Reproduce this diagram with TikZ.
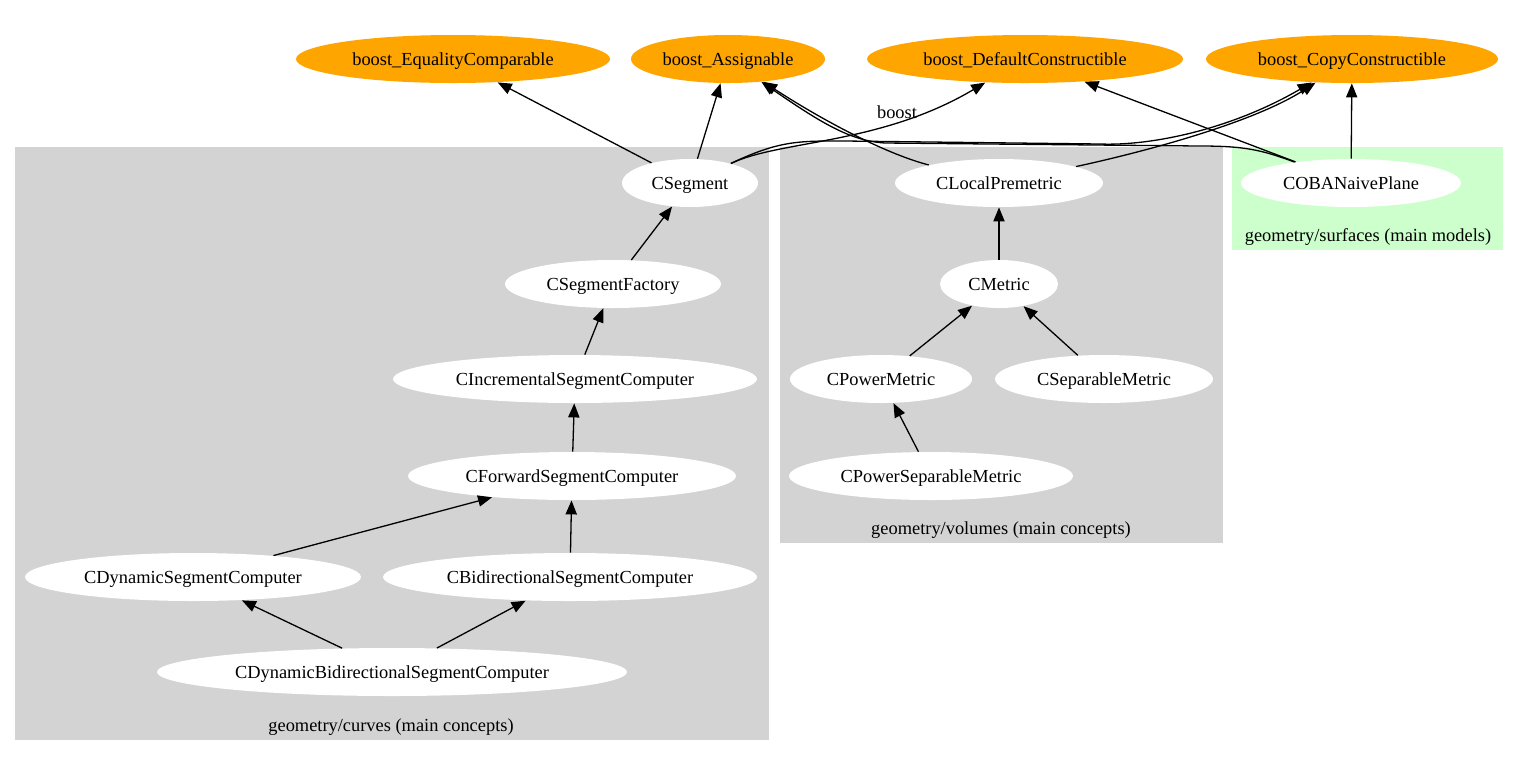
\documentclass[tikz,border=0pt]{standalone}
\usepackage{fontspec}
\setmainfont{Liberation Serif}
\usetikzlibrary{arrows.meta,shapes.geometric}
\definecolor{clgray}{HTML}{D3D3D3}
\definecolor{clgreen}{HTML}{CCFFCC}
\definecolor{bstorange}{HTML}{FFA500}
\begin{document}
\begin{tikzpicture}[x=0.5pt,y=-0.5pt,
  font=\fontsize{9.2pt}{11pt}\selectfont,
  cls/.style={ellipse, fill=white, inner sep=0pt, minimum height=24pt, text height=8pt, text depth=2pt},
  bst/.style={ellipse, fill=bstorange, inner sep=0pt, minimum height=24pt, text height=8pt, text depth=2pt},
  edge/.style={-{Triangle[length=7pt,width=5.6pt]}, line width=0.65pt, black},
  clabel/.style={inner sep=0pt, text height=8pt, text depth=2pt}]
\useasboundingbox (0,0) rectangle (1537,757);
\fill[white] (0,0) rectangle (1537,757);
% clusters
\fill[clgray] (15,147) rectangle (769,740);
\fill[clgray] (780,147) rectangle (1223,543);
\fill[clgreen] (1232,147) rectangle (1503,250);
\node[clabel] (lcurves) at (391,725) {geometry/curves (main concepts)};
\node[clabel] (lvol) at (1001,528) {geometry/volumes (main concepts)};
\node[clabel] (lsurf) at (1368,235) {geometry/surfaces (main models)};
\node[clabel] (lboost) at (897,112) {boost};
% boost nodes
\node[bst, minimum width=157pt] (eq) at (453,59) {boost\_EqualityComparable};
\node[bst, minimum width=97pt] (as) at (728,59) {boost\_Assignable};
\node[bst, minimum width=158pt] (dc) at (1025,59) {boost\_DefaultConstructible};
\node[bst, minimum width=146pt] (cc) at (1352,59) {boost\_CopyConstructible};
% curves
\node[cls, minimum width=68pt] (seg) at (690,183) {CSegment};
\node[cls, minimum width=108pt] (sf) at (613,284) {CSegmentFactory};
\node[cls, minimum width=182pt] (isc) at (575,379) {CIncrementalSegmentComputer};
\node[cls, minimum width=164pt] (fsc) at (572,476) {CForwardSegmentComputer};
\node[cls, minimum width=168pt] (dsc) at (193,577) {CDynamicSegmentComputer};
\node[cls, minimum width=187pt] (bsc) at (570,577) {CBidirectionalSegmentComputer};
\node[cls, minimum width=235pt] (dbsc) at (392,672) {CDynamicBidirectionalSegmentComputer};
% volumes
\node[cls, minimum width=104pt] (lp) at (999,183) {CLocalPremetric};
\node[cls, minimum width=59pt] (met) at (999,284) {CMetric};
\node[cls, minimum width=91pt] (pm) at (881,379) {CPowerMetric};
\node[cls, minimum width=109pt] (sm) at (1104,379) {CSeparableMetric};
\node[cls, minimum width=142pt] (psm) at (931,476) {CPowerSeparableMetric};
% surfaces
\node[cls, minimum width=110pt] (oba) at (1351,183) {COBANaivePlane};
% edges inside clusters
\draw[edge] (sf) -- (seg);
\draw[edge] (isc) -- (sf);
\draw[edge] (fsc) -- (isc);
\draw[edge] (dsc) -- (fsc);
\draw[edge] (bsc) -- (fsc);
\draw[edge] (dbsc) -- (dsc);
\draw[edge] (dbsc) -- (bsc);
\draw[edge] (met) -- (lp);
\draw[edge] (pm) -- (met);
\draw[edge] (sm) -- (met);
\draw[edge] (psm) -- (pm);
% edges to boost
\draw[edge] (seg) -- (eq);
\draw[edge] (seg) -- (as);
\draw[edge] (seg) .. controls (780,140) and (880,145) .. (dc);
\draw[edge] (seg) .. controls (780,140) and (800,141) .. (845,141)
  -- (1100,144) .. controls (1150,146) and (1230,130) .. (cc);
\draw[edge] (lp) .. controls (890,155) and (830,125) .. (as);
\draw[edge] (lp) .. controls (1130,155) and (1250,125) .. (cc);
\draw[edge] (oba) .. controls (1262,150) and (1245,146) .. (1200,146)
  -- (885,143) .. controls (850,141) and (820,122) .. (as);
\draw[edge] (oba) -- (dc);
\draw[edge] (oba) -- (cc);
\end{tikzpicture}
\end{document}
